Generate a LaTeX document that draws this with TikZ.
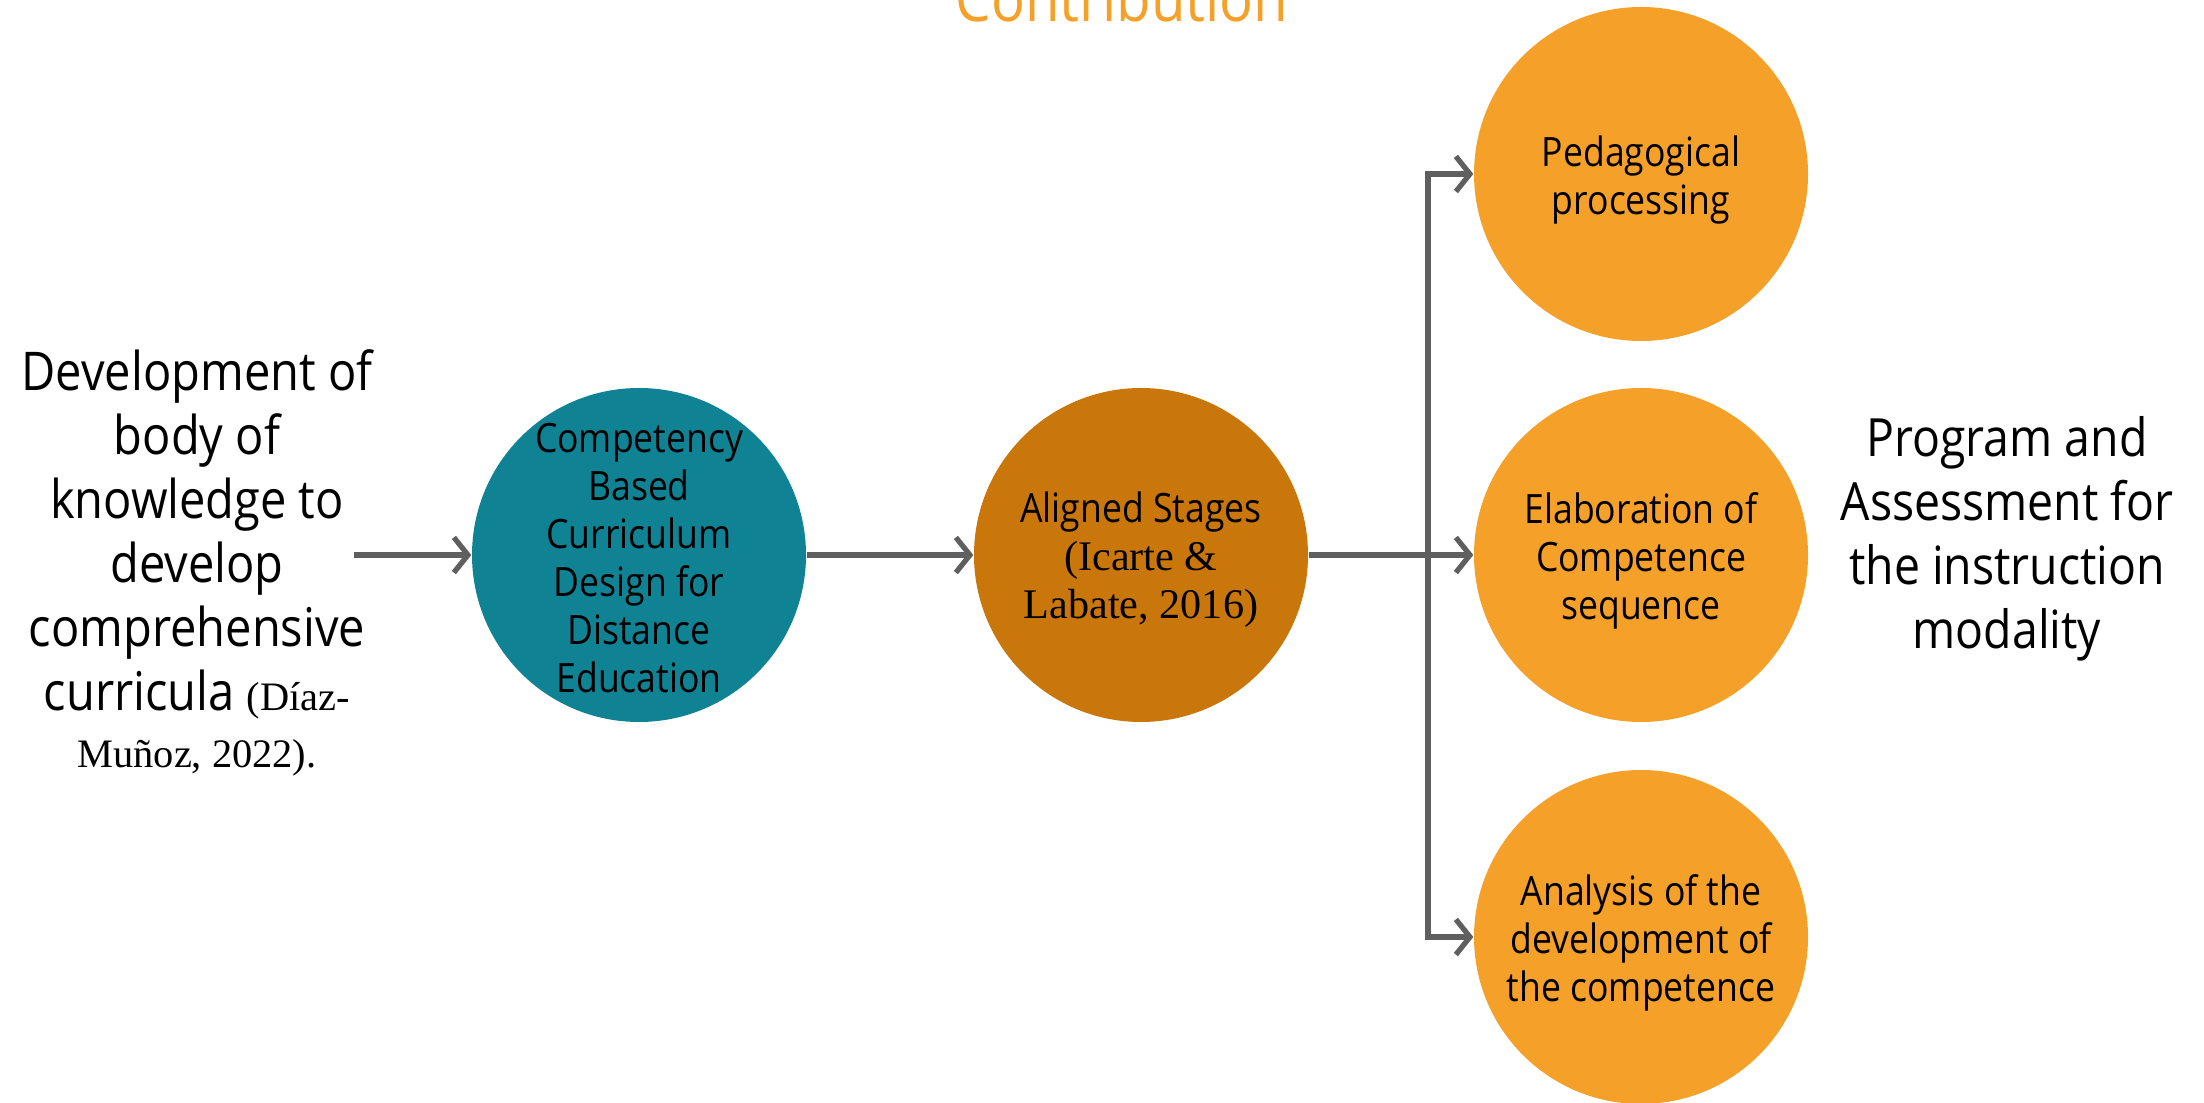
\documentclass[tikz,border=0pt]{standalone}
\usepackage{fontspec}
\setmainfont{Open Sans}[FakeStretch=0.88]
\newfontfamily\serif{Liberation Serif}
\usetikzlibrary{arrows.meta}
\definecolor{teal1}{RGB}{15,130,148}
\definecolor{amber}{RGB}{201,119,10}
\definecolor{orng}{RGB}{245,161,41}
\definecolor{lgray}{RGB}{95,95,95}
\tikzset{
  bubble/.style={circle, minimum size=33.4mm, inner sep=0pt, align=center, text=black,
    font=\fontsize{11.5}{13.66}\selectfont},
  btext/.style={align=center, text=black, inner sep=0pt, font=\fontsize{11.5}{13.66}\selectfont},
  conn/.style={draw=lgray, line width=1.5pt, -{Straight Barb[length=4pt,width=10pt,line width=1.5pt]}},
  side/.style={align=center, font=\fontsize{15.2}{18.2}\selectfont}
}
\begin{document}
\begin{tikzpicture}[x=0.1mm,y=-0.1mm]
\useasboundingbox (0,0) rectangle (2204,1103);
\node[anchor=base, text=orng, font=\fontsize{18.2}{20}\selectfont] (title) at (1122,22) {Contribution};
\node[side] (left) at (197,563) {Development of\\body of\\knowledge to\\develop\\comprehensive\\curricula {\serif\fontsize{11.5}{13}\selectfont(Díaz-}\\[-0.7mm]{\serif\fontsize{11.5}{13}\selectfont Muñoz, 2022).}};
\coordinate (lstart) at (354,555);
\node[bubble, fill=teal1] (cbc) at (639,555) {};
\node[btext] (cbct) at (639,558) {Competency\\Based\\Curriculum\\Design for\\Distance\\Education};
\node[bubble, fill=amber] (al) at (1141,555) {};
\node[btext] (alt) at (1141,560) {Aligned Stages\\{\serif\fontsize{12}{13.66}\selectfont(Icarte \&}\\{\serif\fontsize{12}{13.66}\selectfont Labate, 2016)}};
\node[bubble, fill=orng] (ped) at (1641,174) {};
\node[btext] (pedt) at (1641,180) {Pedagogical\\processing};
\node[bubble, fill=orng] (ela) at (1641,555) {};
\node[btext] (elat) at (1641,561) {Elaboration of\\Competence\\sequence};
\node[bubble, fill=orng] (ana) at (1641,937) {};
\node[btext] (anat) at (1641,943) {Analysis of the\\development of\\the competence};
\node[side, font=\fontsize{15}{18.2}\selectfont] (right) at (2007,539) {Program and\\Assessment for\\the instruction\\modality};
\coordinate (trunk) at (1428,555);
\draw[conn] (lstart) -- (cbc);
\draw[conn] (cbc) -- (al);
\draw[conn] (al) -- (ela);
\draw[conn] (trunk) |- (ped);
\draw[conn] (trunk) |- (ana);
\end{tikzpicture}
\end{document}
